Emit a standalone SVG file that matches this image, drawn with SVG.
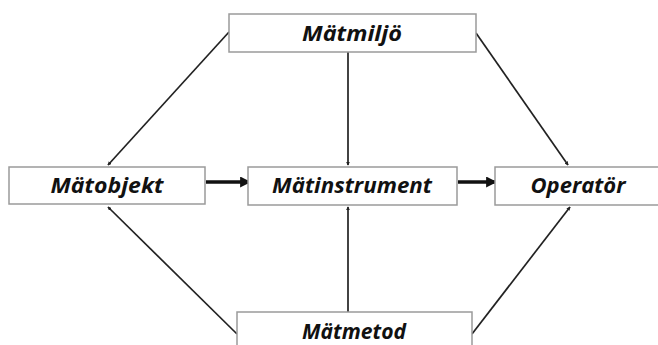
<svg xmlns="http://www.w3.org/2000/svg" width="658" height="345" viewBox="0 0 658 345">
<defs>
<style>
.box{fill:#fff;stroke:#9a9a9a;stroke-width:1.5}
.lbl{font-family:"Open Sans","Liberation Sans",sans-serif;font-weight:bold;font-style:italic;font-size:21px;fill:#111;text-anchor:middle}
.thin{stroke:#222;stroke-width:1.7;fill:none;marker-end:url(#sm)}
.thick{stroke:#111;stroke-width:3.5;fill:none;marker-end:url(#big)}
</style>
<marker id="sm" viewBox="0 0 6 6" refX="5" refY="3" markerWidth="4" markerHeight="4" orient="auto" markerUnits="userSpaceOnUse"><path d="M0,0 L6,3 L0,6 z" fill="#222"/></marker>
<marker id="big" viewBox="0 0 10 10" refX="9" refY="5" markerWidth="11" markerHeight="11" orient="auto" markerUnits="userSpaceOnUse"><path d="M0,0 L10,5 L0,10 z" fill="#111"/></marker>
</defs>
<rect width="658" height="345" fill="#fff"/>
<g id="connectors">
<line class="thin" x1="229" y1="32" x2="108" y2="165"/>
<line class="thin" x1="348" y1="52" x2="348" y2="165"/>
<line class="thin" x1="476" y1="33" x2="568" y2="165"/>
<line class="thin" x1="237" y1="334" x2="108" y2="207"/>
<line class="thin" x1="348" y1="312" x2="348" y2="207"/>
<line class="thin" x1="472" y1="334" x2="570" y2="207"/>
<line class="thick" x1="206" y1="182" x2="250" y2="182"/>
<line class="thick" x1="458" y1="182" x2="496" y2="182"/>
</g>
<g id="matmiljo"><rect class="box" x="229" y="14" width="247" height="38"/><text class="lbl" x="352" y="41" textLength="100" lengthAdjust="spacingAndGlyphs">Mätmiljö</text></g>
<g id="matobjekt"><rect class="box" x="9" y="167" width="196" height="37"/><text class="lbl" x="107" y="193" textLength="113" lengthAdjust="spacingAndGlyphs">Mätobjekt</text></g>
<g id="matinstrument"><rect class="box" x="248" y="167" width="209" height="38"/><text class="lbl" x="352" y="193" textLength="160" lengthAdjust="spacingAndGlyphs">Mätinstrument</text></g>
<g id="operator"><rect class="box" x="495" y="167" width="170" height="38"/><text class="lbl" x="578" y="193" textLength="95" lengthAdjust="spacingAndGlyphs">Operatör</text></g>
<g id="matmetod"><rect class="box" x="237" y="312" width="235" height="40"/><text class="lbl" x="354" y="339" textLength="104" lengthAdjust="spacingAndGlyphs">Mätmetod</text></g>
</svg>
